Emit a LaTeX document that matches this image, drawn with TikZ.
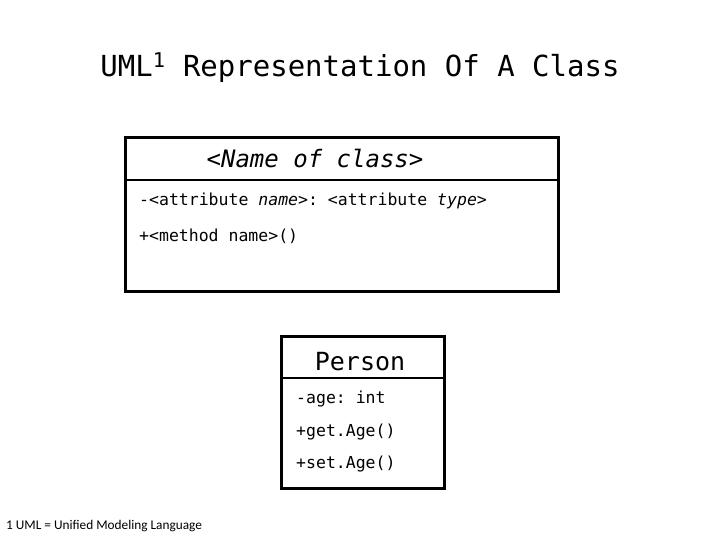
\documentclass[tikz,border=0pt]{standalone}
\usepackage{fontspec}
\setmainfont{Carlito}
\setmonofont{DejaVu Sans Mono}
\begin{document}
\begin{tikzpicture}[x=1pt,y=-1pt,
  classbox/.style={draw,line width=3pt},
  divline/.style={line width=1.5pt},
  member/.style={anchor=west,font=\ttfamily\fontsize{16.5}{19}\selectfont,inner sep=0pt}]
  \useasboundingbox (0,0) rectangle (720,540);
  % Title
  \node[font=\ttfamily\fontsize{29}{33}\selectfont] (title) at (360,68) {UML\textsuperscript{1} Representation Of A Class};
  % Generic class
  \draw[classbox] (125,138) rectangle (558,291);
  \coordinate (gl) at (125,180);
  \coordinate (gr) at (558,180);
  \draw[divline] (gl) -- (gr);
  \node[font=\ttfamily\itshape\fontsize{24}{28}\selectfont] (gname) at (315,158) {<Name of class>};
  \node[member] (gattr) at (139,201) {-<attribute \textit{name}>: <attribute \textit{type}>};
  \node[member] (gmeth) at (139,236) {+<method name>()};
  % Person class
  \draw[classbox] (281,336) rectangle (444,488);
  \coordinate (pl) at (281,378);
  \coordinate (pr) at (444,378);
  \draw[divline] (pl) -- (pr);
  \node[font=\ttfamily\fontsize{25}{28}\selectfont] (pname) at (360,362) {Person};
  \node[member] (pattr) at (296,399) {-age: int};
  \node[member] (pget) at (296,432) {+get.Age()};
  \node[member] (pset) at (296,464) {+set.Age()};
  % Footnote
  \node[anchor=west,font=\fontsize{13.3}{15}\selectfont,inner sep=0pt] (foot) at (6,526) {1 UML = Unified Modeling Language};
\end{tikzpicture}
\end{document}
